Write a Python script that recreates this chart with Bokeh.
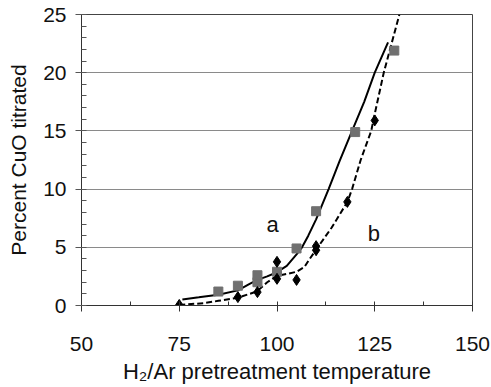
from bokeh.plotting import figure
from bokeh.models import Range1d, FixedTicker
from bokeh.core.properties import value
from bokeh.embed import file_html
from bokeh.resources import INLINE

# Measured data points
sq_x = [85, 90, 95, 95, 100, 105, 110, 120, 130]
sq_y = [1.2, 1.7, 2.0, 2.6, 2.9, 4.9, 8.1, 14.9, 21.9]

dm_x = [75, 90, 95, 100, 100, 105, 110, 110, 118, 125]
dm_y = [0.05, 0.72, 1.15, 3.75, 2.29, 2.2, 5.1, 4.75, 8.9, 15.9]

# Fitted curve a (solid)
curve_a_x = [75.8, 80, 85, 90, 93, 95, 97.5, 100, 102.5, 105, 106.4, 108, 110,
             113.2, 116, 119.2, 122.3, 125.0, 128.4]
curve_a_y = [0.52, 0.7, 0.92, 1.3, 1.85, 2.2, 2.5, 2.86, 3.4, 4.4, 5.0, 6.0, 7.4,
             10.0, 12.4, 15.0, 17.5, 20.0, 22.6]

# Fitted curve b (dashed)
curve_b_x = [75, 81.3, 85, 89.8, 94.8, 97.5, 100, 102.6, 105, 107, 108.1, 110,
             114, 118, 119.2, 121.4, 124.1, 124.7, 127.3, 131.3]
curve_b_y = [0.05, 0.2, 0.4, 0.65, 1.2, 2.0, 2.55, 2.72, 2.9, 3.3, 3.87, 4.8,
             6.7, 8.9, 10.0, 12.5, 15.0, 16.0, 20.0, 25.0]

x_ticks = [50, 75, 100, 125, 150]
x_minor_ticks = [62.5, 87.5, 112.5, 137.5]
y_ticks = [0, 5, 10, 15, 20, 25]

curve_labels = ["a", "b"]
curve_label_x = [98.9, 124.8]
curve_label_y = [7.0, 6.15]

x_title = "H\u2082/Ar pretreatment temperature"
y_title = "Percent CuO titrated"

FONT = "Liberation Sans"

p = figure(width=491, height=387, output_backend="svg", toolbar_location=None,
           x_range=Range1d(50, 150), y_range=Range1d(0, 25),
           min_border_left=81, min_border_right=19, min_border_top=14,
           min_border_bottom=82)

p.background_fill_color = "white"
p.border_fill_color = "white"
p.outline_line_color = "#444444"
p.outline_line_width = 1

# grid
p.xgrid.visible = False
p.ygrid.ticker = FixedTicker(ticks=y_ticks)
p.ygrid.grid_line_color = "#8a8a8a"
p.ygrid.grid_line_width = 1.2

# x axis
xa = p.xaxis[0]
xa.ticker = FixedTicker(ticks=x_ticks, minor_ticks=x_minor_ticks)
xa.axis_label = x_title
xa.axis_label_text_font = FONT
xa.axis_label_text_font_size = "22px"
xa.axis_label_text_font_style = "normal"
xa.axis_label_text_color = "#111111"
xa.axis_label_standoff = 5
xa.major_label_text_font = FONT
xa.major_label_text_font_size = "21px"
xa.major_label_text_color = "#111111"
xa.major_label_standoff = 25
xa.major_tick_in = 4
xa.major_tick_out = 6
xa.minor_tick_in = 4
xa.minor_tick_out = 0
xa.axis_line_color = "#333333"
xa.major_tick_line_color = "#333333"
xa.minor_tick_line_color = "#333333"

# y axis
ya = p.yaxis[0]
ya.ticker = FixedTicker(ticks=y_ticks, minor_ticks=[v for v in range(0, 26) if v % 5])
ya.axis_label = y_title
ya.axis_label_text_font = FONT
ya.axis_label_text_font_size = "21px"
ya.axis_label_text_font_style = "normal"
ya.axis_label_text_color = "#111111"
ya.axis_label_standoff = 10
ya.major_label_text_font = FONT
ya.major_label_text_font_size = "21px"
ya.major_label_text_color = "#111111"
ya.major_label_standoff = 9
ya.major_tick_in = 5
ya.major_tick_out = 6
ya.minor_tick_in = 5
ya.minor_tick_out = 0
ya.axis_line_color = "#333333"
ya.major_tick_line_color = "#555555"
ya.minor_tick_line_color = "#555555"

# curves
p.line(curve_a_x, curve_a_y, line_color="black", line_width=2)
p.line(curve_b_x, curve_b_y, line_color="black", line_width=2, line_dash="6 3")

# markers
p.scatter(sq_x, sq_y, marker="square", size=9, fill_color="#707070",
          line_color="#707070")
p.scatter(dm_x, dm_y, marker="diamond", size=11, fill_color="black",
          line_color="black")

# curve labels
p.text(x=curve_label_x, y=curve_label_y, text=curve_labels,
       text_font=value(FONT), text_font_size="22px", text_color="#111111",
       text_align="center", text_baseline="middle")

open("out.html", "w").write(file_html(p, INLINE))
